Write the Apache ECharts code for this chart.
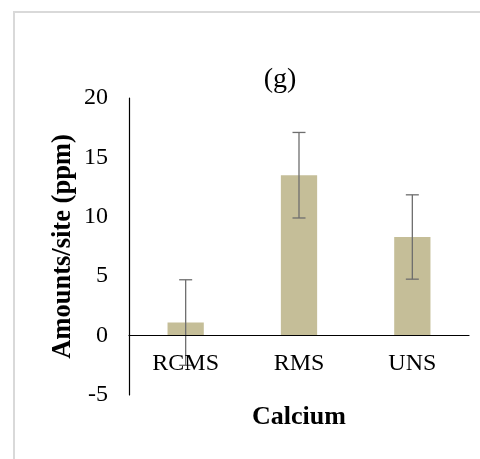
<!DOCTYPE html>
<html>
<head>
<meta charset="utf-8">
<style>
  html, body { margin: 0; padding: 0; background: #fff; }
  #chart { width: 480px; height: 459px; }
</style>
<script src="https://cdn.jsdelivr.net/npm/echarts@6/dist/echarts.min.js"></script>
</head>
<body>
<div id="chart"></div>
<script>
// Calcium amounts per site, with standard-deviation error bars
const categories = ['RCMS', 'RMS', 'UNS'];
const amounts = [1.1, 13.5, 8.3];
const errors = [3.6, 3.6, 3.55];
const yTicks = { min: -5, max: 20, step: 5 };

const serif = '"Liberation Serif", "Times New Roman", serif';
const gridTop = 98, gridBottom = 64, chartHeight = 459;
// distance from the plot's bottom edge to the zero line, so the category axis sits at y = 0
const zeroOffset = (chartHeight - gridTop - gridBottom) * (0 - yTicks.min) / (yTicks.max - yTicks.min);

const chart = echarts.init(document.getElementById('chart'));

const errorData = categories.map((c, i) => [i, amounts[i] - errors[i], amounts[i] + errors[i]]);

chart.setOption({
  backgroundColor: '#fff',
  animation: false,
  graphic: [{
    type: 'polyline',
    shape: { points: [[14, 470], [14, 12], [490, 12]] },
    style: { stroke: '#d9d9d9', lineWidth: 2, fill: null },
    silent: true
  }],
  title: {
    text: '(g)',
    left: 275, top: 61, textAlign: 'center',
    textStyle: { fontFamily: serif, fontSize: 28, fontWeight: 'normal', color: '#000' }
  },
  grid: { left: 129, right: 11, top: gridTop, bottom: gridBottom, containLabel: false, outerBoundsMode: 'none' },
  xAxis: {
    type: 'category',
    data: categories,
    z: 10,
    offset: -zeroOffset,
    name: 'Calcium',
    nameLocation: 'middle',
    nameGap: 69,
    nameTextStyle: { fontFamily: serif, fontSize: 26, fontWeight: 'bold', color: '#000' },
    axisLine: { show: true, onZero: false, lineStyle: { color: '#000', width: 1.2 } },
    axisTick: { show: false },
    axisLabel: { fontFamily: serif, fontSize: 24, color: '#000', margin: 16 }
  },
  yAxis: {
    type: 'value',
    min: yTicks.min, max: yTicks.max, interval: yTicks.step,
    name: 'Amounts/site (ppm)',
    nameLocation: 'middle',
    nameGap: 52,
    nameMoveOverlap: false,
    nameTextStyle: { fontFamily: serif, fontSize: 26.5, fontWeight: 'bold', color: '#000' },
    axisLine: { show: true, lineStyle: { color: '#000', width: 1.2 } },
    axisTick: { show: false },
    splitLine: { show: false },
    axisLabel: { fontFamily: serif, fontSize: 24, color: '#000', margin: 21 }
  },
  series: [
    {
      type: 'bar',
      data: amounts,
      barWidth: '32%',
      itemStyle: { color: '#c5be98' }
    },
    {
      type: 'custom',
      z: 5,
      data: errorData,
      renderItem: function (params, api) {
        const x = api.coord([api.value(0), 0])[0];
        const lo = api.coord([api.value(0), api.value(1)])[1];
        const hi = api.coord([api.value(0), api.value(2)])[1];
        const cap = 6.5;
        const style = { stroke: '#6e6e6e', lineWidth: 1.3 };
        return {
          type: 'group',
          children: [
            { type: 'line', shape: { x1: x, y1: lo, x2: x, y2: hi }, style },
            { type: 'line', shape: { x1: x - cap, y1: hi, x2: x + cap, y2: hi }, style },
            { type: 'line', shape: { x1: x - cap, y1: lo, x2: x + cap, y2: lo }, style }
          ]
        };
      }
    }
  ]
});
</script>
</body>
</html>
